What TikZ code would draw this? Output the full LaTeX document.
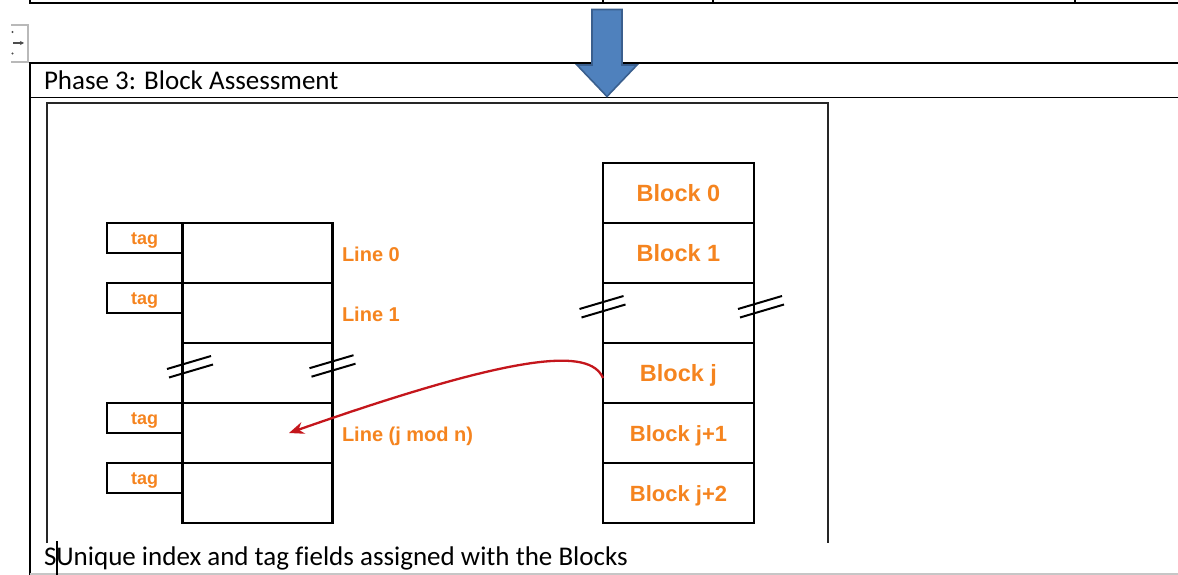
\documentclass[tikz,border=0pt]{standalone}
\usepackage{fontspec}
\usepackage{xcolor}
\usetikzlibrary{arrows.meta}
\newfontfamily\figfont{Liberation Sans}
\newfontfamily\docfont[Ligatures=NoCommon]{Carlito}
\definecolor{labelorange}{HTML}{F5841F}
\definecolor{pointred}{HTML}{C4161C}
\definecolor{phaseblue}{HTML}{4F81BD}
\definecolor{phaseedge}{HTML}{3A5F8E}
\definecolor{handlegray}{HTML}{B9B9B9}

\begin{document}
\begin{tikzpicture}[
  x=1pt,
  y=-1pt,
  every node/.style={inner sep=0pt, outer sep=0pt},
  rule/.style={black, line width=1.6pt},
  frame/.style={black!85, line width=2.4pt},
  cell/.style={draw=black, line width=2.2pt, minimum width=150pt, minimum height=60pt},
  memcell/.style={cell, minimum width=151pt, text=labelorange,
                  font=\figfont\bfseries\fontsize{23.5}{27}\selectfont,
                  text height=16.5pt, text depth=0pt},
  tagbox/.style={draw=black, line width=2.2pt, minimum width=76pt, minimum height=30pt,
                 text=labelorange, font=\figfont\bfseries\fontsize{18}{22}\selectfont,
                 text height=13pt, text depth=0pt},
  linelabel/.style={anchor=west, text=labelorange,
                    font=\figfont\bfseries\fontsize{20}{24}\selectfont,
                    text height=14.5pt, text depth=0pt},
  doctext/.style={anchor=base west, font=\docfont\fontsize{27}{32}\selectfont},
  brk/.style={black, line width=2pt},
  pointer/.style={pointred, line width=2.3pt, -{Stealth[length=15pt, width=12pt]}},
  bigarrow/.style={fill=phaseblue, draw=phaseedge, line width=1.6pt, line join=miter}
]
  \useasboundingbox (0,0) rectangle (1178,575);

  %% ---- table rules ------------------------------------------------------
  \draw[rule] (30,0) -- (30,3) -- (1178,3);
  \foreach \tx in {603, 713, 1075}
    \draw[rule] (\tx,0) -- (\tx,3);
  \draw[rule] (1178,63) -- (30,63) -- (30,575);
  \draw[rule] (30,97.5) -- (1178,97.5);
  \draw[gray!45, line width=1.5pt] (30,574) -- (1178,574);

  % move handle of the table
  \draw[handlegray, line width=1.5pt] (11,25) -- (28,25) -- (28,62) -- (11,62);
  \draw[black!70, line width=1.3pt, -{Stealth[length=4pt, width=4pt]}] (13,43) -- (24,43);
  \fill[black!70] (12.5,32) circle (1.2pt) (12.5,53.5) circle (1.2pt);

  %% ---- phase arrow and header -------------------------------------------
  \draw[bigarrow] (592,9.5) -- (622,9.5) -- (622,65) -- (637,65)
    -- (607,96.5) -- (577,65) -- (592,65) -- cycle;
  \node[doctext] (phase) at (44,90) {Phase 3: Block Assessment};

  %% ---- picture frame ----------------------------------------------------
  \draw[frame] (47,543) -- (47,103) -- (828,103) -- (828,543);

  %% ---- cache lines with tags ----------------------------------------------
  \node[cell] (c0)   at (257.5,253) {};
  \node[cell] (c1)   at (257.5,313) {};
  \node[cell] (cgap) at (257.5,373) {};
  \node[cell] (cj)   at (257.5,433) {};
  \node[cell] (cj1)  at (257.5,493) {};

  \node[tagbox] (t0) at (144.7,238) {tag};
  \node[tagbox] (t1) at (144.7,298) {tag};
  \node[tagbox] (t2) at (144.7,418) {tag};
  \node[tagbox] (t3) at (144.7,478) {tag};

  \node[linelabel] (l0) at (342,254) {Line 0};
  \node[linelabel] (l1) at (342,314) {Line 1};
  \node[linelabel] (lj) at (342,434) {Line (j mod n)};

  %% ---- memory blocks ------------------------------------------------------
  \node[memcell] (m0)   at (678.5,193) {Block 0};
  \node[memcell] (m1)   at (678.5,253) {Block 1};
  \node[memcell] (mgap) at (678.5,313) {};
  \node[memcell] (mj)   at (678.5,373) {Block j};
  \node[memcell, font=\figfont\bfseries\fontsize{22}{26}\selectfont] (mj1) at (678.5,433) {Block j+1};
  \node[memcell, font=\figfont\bfseries\fontsize{22}{26}\selectfont] (mj2) at (678.5,493) {Block j+2};

  %% ---- break marks ----------------------------------------------------------
  \foreach \bx/\by in {189/362.5, 331.5/361.7, 601.5/302.5, 760/302.5}{
    \draw[brk] (\bx-22,\by+6.5) -- ++(44,-13);
    \draw[brk] (\bx-20,\by+15) -- ++(44,-13);
  }

  %% ---- mapping of block j ---------------------------------------------------
  \coordinate (hit) at (289,433);
  \draw[pointer] ([yshift=-5pt]mj.west) .. controls (590,348) and (520,352) .. (hit);

  %% ---- caption with cursor --------------------------------------------------
  \node[doctext] (caption) at (44,565)
    {S\rlap{\rule[-10pt]{1.5pt}{34pt}}Unique index and tag fields assigned with the Blocks};

\end{tikzpicture}
\end{document}
